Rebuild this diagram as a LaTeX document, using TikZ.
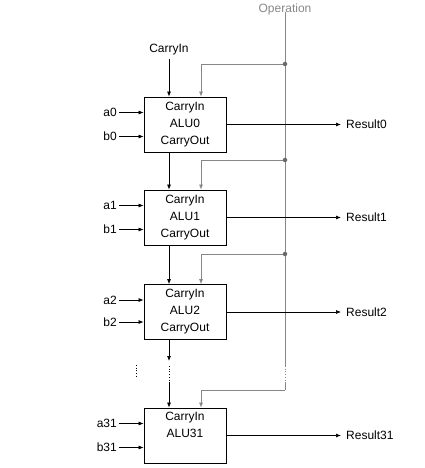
\documentclass[tikz,border=0pt]{standalone}
\usepackage{fontspec}
\setmainfont{Liberation Sans}
\usetikzlibrary{arrows.meta}
\definecolor{opgray}{RGB}{135,135,135}
\definecolor{dotgray}{RGB}{105,105,105}
\begin{document}
\begin{tikzpicture}[x=1pt,y=-1pt,
  alu/.style={draw, line width=0.8pt, minimum width=82pt, minimum height=55pt, inner sep=0pt, align=center, font=\fontsize{12}{17}\selectfont},
  lbl/.style={font=\fontsize{12}{14}\selectfont, inner sep=0pt},
  arr/.style={-{Latex[length=5pt,width=4pt]}, line width=0.7pt},
  garr/.style={arr, draw=opgray},
  gline/.style={draw=opgray, line width=0.7pt},
  jdot/.style={circle, fill=dotgray, inner sep=0pt, minimum size=4.5pt}]
\useasboundingbox (0,0) rectangle (425,468);
% ALU boxes
\node[alu] (alu0) at (185,124.5) {CarryIn\\ALU0\\CarryOut};
\node[alu] (alu1) at (185,217.5) {CarryIn\\ALU1\\CarryOut};
\node[alu] (alu2) at (185,312) {CarryIn\\ALU2\\CarryOut};
\node[alu] (alu31) at (185,435.5) {CarryIn\\ALU31\\\strut};
% Operation bus
\node[lbl, text=opgray] (op) at (285,9) {Operation};
\coordinate (j0) at (285,64);
\coordinate (j1) at (285,160);
\coordinate (j2) at (285,254);
\coordinate (d0) at (285,366);
\coordinate (d1) at (285,383);
\coordinate (j3) at (285,390);
\draw[gline] (op.south) ++(0,3pt) -- (d0);
\draw[gline, dotted] (d0) -- (d1);
\draw[gline] (d1) -- (j3);
\draw[garr] (j0) -| ([xshift=16pt]alu0.north);
\draw[garr] (j1) -| ([xshift=16pt]alu1.north);
\draw[garr] (j2) -| ([xshift=16pt]alu2.north);
\draw[garr] (j3) -| ([xshift=16pt]alu31.north);
\node[jdot] at (j0) {};
\node[jdot] at (j1) {};
\node[jdot] at (j2) {};
% carry chain
\node[lbl] (cin) at (169,50) {CarryIn};
\draw[arr] (cin.south) ++(0,-3pt) -- ([xshift=-16pt]alu0.north);
\draw[arr] ([xshift=-16pt]alu0.south) -- ([xshift=-16pt]alu1.north);
\draw[arr] ([xshift=-16pt]alu1.south) -- ([xshift=-16pt]alu2.north);
\coordinate (c0) at (169,361);
\coordinate (c1) at (169,366);
\coordinate (c2) at (169,382);
\draw[arr] ([xshift=-16pt]alu2.south) -- (c0);
\draw[dotted, line width=0.7pt] (c1) -- (c2);
\draw[arr] (c2) -- ([xshift=-16pt]alu31.north);
% left dots
\coordinate (v0) at (136,365);
\coordinate (v1) at (136,378);
\draw[dotted, line width=0.7pt] (v0) -- (v1);
% inputs
\foreach \n/\y/\b in {a0/112.5/alu0, b0/136.5/alu0, a1/205.5/alu1, b1/229.5/alu1, a2/300/alu2, b2/322/alu2, a31/423.5/alu31, b31/447.5/alu31}{
  \node[lbl, anchor=east] (\n) at (117,\y) {\n};
  \draw[arr] ([xshift=2pt]\n.east) -- (\n -| \b.west);
}
% results
\foreach \r/\b/\y in {Result0/alu0/124.5, Result1/alu1/217.5, Result2/alu2/312, Result31/alu31/435.5}{
  \node[lbl, anchor=west] (\r) at (346,\y) {\r};
  \draw[arr] (\b.east) -- ([xshift=-5pt]\r.west);
}
\end{tikzpicture}
\end{document}
